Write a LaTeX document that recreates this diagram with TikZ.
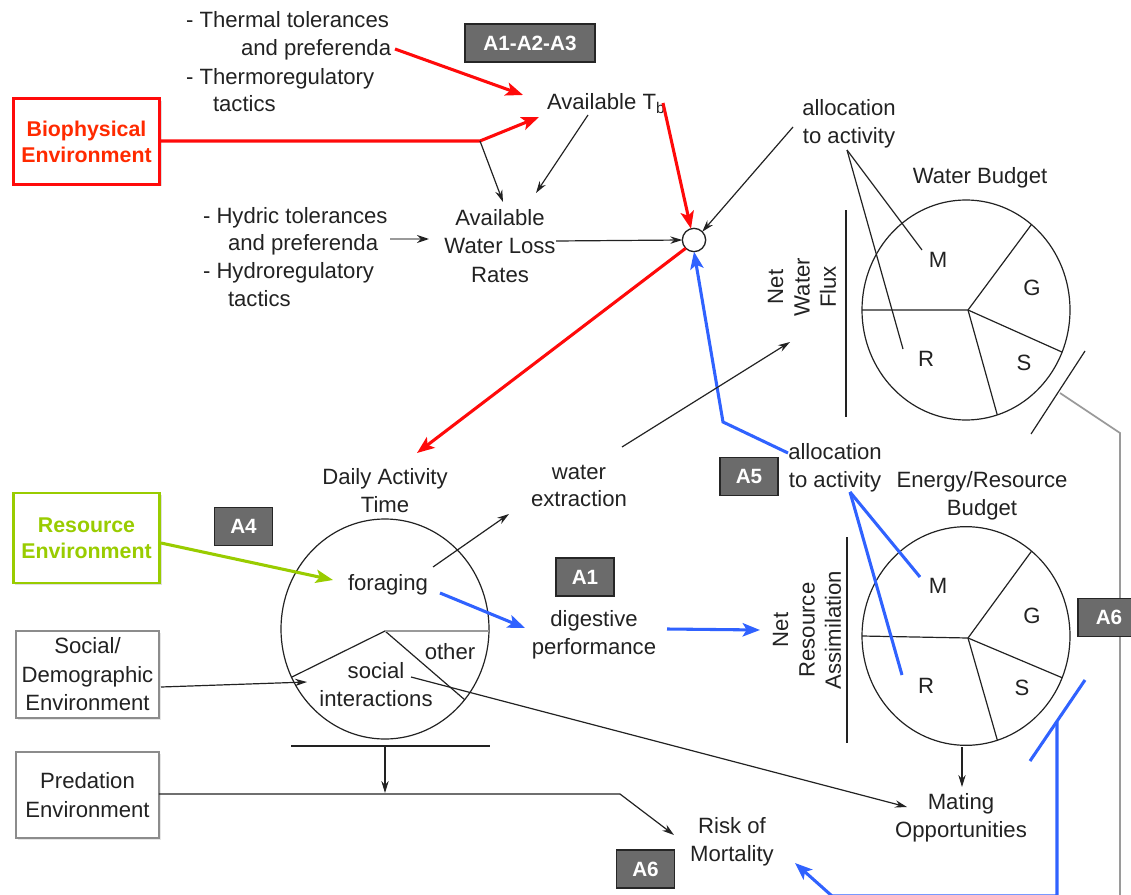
\documentclass[tikz,border=0pt]{standalone}
\usepackage{fontspec}
\setmainfont{Liberation Sans}
\usetikzlibrary{arrows.meta,calc,shadows}
\definecolor{bred}{HTML}{FF0A0A}
\definecolor{tred}{HTML}{FF2A00}
\definecolor{bblue}{HTML}{3062FF}
\definecolor{bgreen}{HTML}{99CC00}
\definecolor{agray}{HTML}{6B6B6B}
\definecolor{lgray}{HTML}{9A9A9A}
\definecolor{ink}{HTML}{222222}
\begin{document}
\begin{tikzpicture}[x=0.75pt,y=-0.75pt,
  every node/.style={inner sep=0pt, outer sep=0pt},
  lbl/.style={align=center, text=ink, font=\fontsize{16.6}{20.9}\selectfont},
  abox/.style={fill=agray, draw=black!85, line width=1pt, text=white,
    font=\fontsize{15.5}{18}\selectfont\bfseries, minimum width=43.5pt, minimum height=28.5pt},
  envbox/.style={draw, line width=2.2pt, align=center, fill=white,
    font=\fontsize{16}{19.5}\selectfont\bfseries, minimum width=110pt, minimum height=64pt,
    drop shadow={shadow xshift=1.5pt, shadow yshift=-1.5pt, opacity=0.25}},
  grbox/.style={draw=black!45, line width=1.5pt, align=center, fill=white,
    minimum width=107pt, minimum height=65pt, text=ink, font=\fontsize{16.6}{21.4}\selectfont,
    drop shadow={shadow xshift=1.5pt, shadow yshift=-1.5pt, opacity=0.2}},
  thinl/.style={draw=ink, line width=0.9pt},
  blk/.style={thinl, -{Stealth[length=9pt,width=5.5pt]}},
  garr/.style={draw=lgray, line width=1.3pt, -{Stealth[length=9pt,width=6pt,color=ink]}},
  redl/.style={draw=bred, line width=2.3pt},
  reda/.style={redl, -{Stealth[length=13pt,width=10pt,inset=3pt]}},
  bluel/.style={draw=bblue, line width=2.3pt},
  bluea/.style={bluel, -{Stealth[length=13pt,width=10pt,inset=3pt]}},
  greena/.style={draw=bgreen, line width=2.3pt, -{Stealth[length=13pt,width=10pt,inset=3pt]}},
  pielbl/.style={text=ink, font=\fontsize{16.6}{20}\selectfont}
]
\useasboundingbox (0,0) rectangle (1131,895);

% ---------- environment boxes ----------
\node[envbox, draw=bred, text=tred] (bio) at (86.5,141.5) {Biophysical\\Environment};
\node[envbox, draw=bgreen, text=bgreen, minimum height=67.5pt] (res) at (86.5,538) {Resource\\Environment};
\node[grbox] (soc) at (87.5,674.5) {Social/\\Demographic\\Environment};
\node[grbox, minimum height=64.5pt] (pred) at (87.5,795) {Predation\\Environment};

% ---------- text labels ----------
\node[lbl, anchor=base west] (th1) at (186,28) {- Thermal tolerances};
\node[lbl, anchor=base west] (th2) at (241,56) {and preferenda};
\node[lbl, anchor=base west] (th3) at (186,85) {- Thermoregulatory};
\node[lbl, anchor=base west] (th4) at (213,112) {tactics};
\node[lbl, anchor=base west] (hy1) at (203,223) {- Hydric tolerances};
\node[lbl, anchor=base west] (hy2) at (228,250) {and preferenda};
\node[lbl, anchor=base west] (hy3) at (203,278) {- Hydroregulatory};
\node[lbl, anchor=base west] (hy4) at (228,306) {tactics};

\node[lbl, anchor=base west] (avT) at (547,110) {Available T\textsubscript{b}};
\node[lbl, font=\fontsize{16.6}{21.4}\selectfont] (awl) at (500,246) {Available\\Water Loss\\Rates};
\node[lbl] (alw) at (849,124) {allocation\\to activity};
\node[lbl] (wbt) at (980,178) {Water Budget};
\node[lbl] (dat) at (385,491) {Daily Activity\\Time};
\node[lbl] (wex) at (579,486) {water\\extraction};
\node[lbl] (for) at (388,585) {foraging};
\node[lbl] (oth) at (450,652) {other};
\node[lbl] (soci) at (376,685) {social\\interactions};
\node[lbl] (dig) at (594,635) {digestive\\performance};
\node[lbl] (ale) at (835,468) {allocation\\to activity};
\node[lbl] (ebt) at (982,496) {Energy/Resource\\Budget};
\node[lbl] (mat) at (961,818) {Mating\\Opportunities};
\node[lbl] (risk) at (732,842) {Risk of\\Mortality};
\node[lbl, rotate=90, font=\fontsize{16.6}{19.8}\selectfont] (nwf) at (802,287) {Net\\Water\\Flux};
\node[lbl, rotate=90, font=\fontsize{16.6}{19.8}\selectfont] (nra) at (807,630) {Net\\Resource\\Assimilation};

% ---------- hub circle ----------
\node[circle, draw=ink, line width=1pt, fill=white, minimum size=17.5pt] (hub) at (694,240) {};

% ---------- water budget pie ----------
\coordinate (wc) at (966,310);
\coordinate (wh) at (968,310);
\draw[thinl] (wc) ellipse [x radius=78pt, y radius=82.5pt];
\draw[thinl] ([shift={(180:104 and 110)}]wc) -- (wh) -- ([shift={(-51:104 and 110)}]wc);
\draw[thinl] (wh) -- ([shift={(22.5:104 and 110)}]wc);
\draw[thinl] (wh) -- ([shift={(72.5:104 and 110)}]wc);
\node[pielbl] (wM) at (938,260) {M};
\node[pielbl] (wG) at (1032,288) {G};
\node[pielbl] (wR) at (926,359) {R};
\node[pielbl] (wS) at (1024,363) {S};

% ---------- energy budget pie ----------
\coordinate (ec) at (966,636);
\coordinate (eh) at (968,638);
\draw[thinl] (ec) ellipse [x radius=78pt, y radius=82pt];
\draw[thinl] ([shift={(180:104 and 109)}]ec) -- (eh) -- ([shift={(-51:104 and 109)}]ec);
\draw[thinl] (eh) -- ([shift={(22.5:104 and 109)}]ec);
\draw[thinl] (eh) -- ([shift={(72.5:104 and 109)}]ec);
\node[pielbl] (eM) at (938,586) {M};
\node[pielbl] (eG) at (1032,616) {G};
\node[pielbl] (eR) at (926,686) {R};
\node[pielbl] (eS) at (1022,688) {S};

% ---------- daily activity pie ----------
\coordinate (dc) at (385,629);
\coordinate (dapex) at (385,631);
\draw[thinl] (dc) ellipse [x radius=78pt, y radius=82.5pt];
\draw[thinl] ([shift={(154:104 and 110)}]dc) -- (dapex) -- ([shift={(40:104 and 110)}]dc);
\draw[draw=lgray, line width=1.3pt] (dapex) -- ([shift={(1:104 and 110)}]dc);

% ---------- bars ----------
\coordinate (nwTop) at (846,210); \coordinate (nwBot) at (846,417);
\coordinate (nrTop) at (847,537); \coordinate (nrBot) at (847,743);
\coordinate (dbL) at (291,746); \coordinate (dbR) at (490,746);
\draw[thinl] (nwTop) -- (nwBot);
\draw[thinl] (nrTop) -- (nrBot);
\draw[thinl] (dbL) -- (dbR);

% ---------- coordinates for connector ends ----------
\coordinate (thS) at (395,49);  \coordinate (thE) at (523,95);
\coordinate (bioJ) at (480,141); \coordinate (avIn) at (539,117);
\coordinate (awIn1) at (503,202); \coordinate (avOut) at (588,115); \coordinate (awIn2) at (536,193);
\coordinate (hyS) at (390,239); \coordinate (hyE) at (429,239);
\coordinate (awOut) at (556,241);
\coordinate (tbOut) at (663,103);
\coordinate (alwOut) at (793,127);
\coordinate (datIn) at (417,453);
\coordinate (aleOut) at (788,453); \coordinate (aleK) at (723,422);
\coordinate (wexS) at (622,447); \coordinate (nwfIn) at (790,342);
\coordinate (alwV) at (847,150);
\coordinate (wMl) at (922,250); \coordinate (wRl) at (903,349);
\coordinate (wsl1) at (1085,351); \coordinate (wsl2) at (1031,434);
\coordinate (gr1) at (1060,393); \coordinate (gr2) at (1120,433); \coordinate (gr3) at (1120,900);
\coordinate (aleV) at (850,492);
\coordinate (eMl) at (920,577); \coordinate (eRl) at (902,675);
\coordinate (bsl1) at (1085,680); \coordinate (bsl2) at (1030,761);
\coordinate (bv1) at (1057,722); \coordinate (bv2) at (1057,896); \coordinate (bv3) at (832,896);
\coordinate (riskIn) at (795,863);
\coordinate (resOut) at (161,543); \coordinate (forIn) at (333,580);
\coordinate (forOut1) at (433,567); \coordinate (wexIn) at (509,514);
\coordinate (forOut2) at (440,593); \coordinate (digIn) at (525,628);
\coordinate (digOut) at (667,629); \coordinate (nraIn) at (760,630);
\coordinate (socOut) at (161,687); \coordinate (socIn) at (307,682);
\coordinate (siOut) at (411,677); \coordinate (matIn) at (907,807);
\coordinate (dbM) at (385,746); \coordinate (dbA) at (385,793);
\coordinate (predK) at (620,794); \coordinate (riskIn2) at (674,835);
\coordinate (ebOut) at (962,747); \coordinate (matIn2) at (962,787);

% ---------- connectors ----------
\draw[reda] (thS) -- (thE);
\draw[reda] (bio.east |- bioJ) -- (bioJ) -- (avIn);
\draw[blk] (bioJ) -- (awIn1);
\draw[blk] (avOut) -- (awIn2);
\draw[garr] (hyS) -- (hyE);
\draw[blk] (awOut) -- (hub.west);
\draw[reda] (tbOut) -- (hub.105);
\draw[blk] (alwOut) -- (hub.45);
\draw[reda] (hub.225) -- (datIn);
\draw[bluea] (aleOut) -- (aleK) -- (hub.south);
\draw[blk] (wexS) -- (nwfIn);
\draw[thinl] (alwV) -- (wMl);
\draw[thinl] (alwV) -- (wRl);
\draw[thinl] (wsl1) -- (wsl2);
\draw[draw=lgray, line width=1.3pt] (gr1) -- (gr2) -- (gr3);
\draw[bluel] (aleV) -- (eMl);
\draw[bluel] (aleV) -- (eRl);
\draw[bluel] (bsl1) -- (bsl2);
\draw[bluea] (bv1) -- (bv2) -- (bv3) -- (riskIn);
\draw[greena] (resOut) -- (forIn);
\draw[blk] (forOut1) -- (wexIn);
\draw[bluea] (forOut2) -- (digIn);
\draw[bluea] (digOut) -- (nraIn);
\draw[blk] (socOut) -- (socIn);
\draw[blk] (siOut) -- (matIn);
\draw[blk] (dbM) -- (dbA);
\draw[blk] (pred.east |- predK) -- (predK) -- (riskIn2);
\draw[blk] (ebOut) -- (matIn2);

% ---------- grey labels ----------
\node[abox, minimum width=97.5pt] (a123) at (530,43) {A1-A2-A3};
\node[abox] (a4) at (243.5,526.5) {A4};
\node[abox] (a1) at (585,577) {A1};
\node[abox] (a5) at (749,476.5) {A5};
\node[abox] (a6b) at (645.5,869) {A6};
\node[abox, minimum width=46.5pt] (a6r) at (1109,617.5) {A6};
\end{tikzpicture}
\end{document}
